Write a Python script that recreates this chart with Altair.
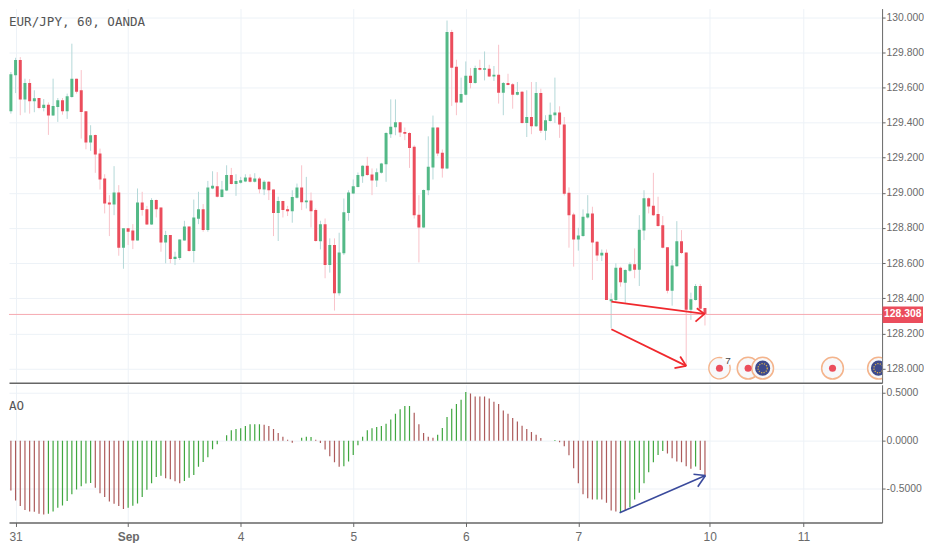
import altair as alt
import pandas as pd

opens = [129.843,129.817,129.464,129.669,129.756,129.532,129.625,129.521,129.540,129.483,129.502,129.440,129.489,129.527,129.464,129.546,129.650,129.584,129.464,129.286,129.330,129.224,129.082,128.945,128.934,129.002,128.688,128.798,128.786,128.729,128.945,128.907,128.820,128.959,128.917,128.718,128.760,128.623,128.629,128.729,128.809,128.669,128.853,128.907,128.788,129.025,129.038,128.976,129.014,129.101,129.051,129.057,129.065,129.087,129.063,129.082,129.019,129.063,129.019,128.885,128.953,128.907,128.896,128.972,
129.031,128.947,128.957,128.902,128.724,128.822,128.589,128.703,128.428,128.656,128.885,128.997,129.034,129.095,129.154,129.104,129.070,129.114,129.163,129.334,129.373,129.402,129.347,129.341,129.262,128.875,128.803,129.015,129.144,129.372,129.229,129.139,129.915,129.718,129.515,129.559,129.667,129.625,129.711,129.701,129.707,129.663,129.673,129.570,129.625,129.618,129.559,129.576,129.398,129.432,129.379,129.568,129.354,129.409,129.442,129.457,129.389,129.000,128.877,128.735,128.754,128.860,128.883,128.722,
128.644,128.659,128.383,128.390,128.574,128.489,128.557,128.593,128.563,128.786,128.970,128.926,128.879,128.815,128.690,128.443,128.582,128.724,128.661,128.334,128.390,128.470,128.345]
highs = [129.928,129.843,129.688,129.769,129.773,129.650,129.648,129.584,129.540,129.534,129.515,129.650,129.540,129.540,129.565,129.849,129.650,129.699,129.464,129.385,129.332,129.252,129.106,128.987,129.152,129.044,128.798,128.798,128.822,129.025,129.006,128.926,128.970,128.962,128.917,128.784,128.760,128.665,128.735,128.841,128.809,128.962,129.006,128.936,129.068,129.123,129.118,129.068,129.157,129.142,129.106,129.091,129.106,129.106,129.112,129.091,129.072,129.067,129.019,128.978,128.955,128.926,129.015,129.053,
129.157,129.091,129.002,128.911,128.841,128.854,128.741,128.741,128.773,128.968,129.015,129.076,129.116,129.157,129.205,129.139,129.139,129.171,129.345,129.532,129.532,129.404,129.372,129.345,129.271,128.987,129.019,129.322,129.440,129.373,129.247,129.981,129.928,129.758,129.656,129.748,129.711,129.724,129.758,129.805,129.729,129.722,129.843,129.631,129.678,129.625,129.631,129.580,129.584,129.631,129.631,129.593,129.442,129.514,129.656,129.493,129.432,129.031,128.887,128.801,128.906,128.987,128.921,128.726,
128.678,128.678,128.428,128.599,128.580,128.565,128.604,128.684,128.873,129.015,128.974,129.114,128.978,128.868,128.690,128.618,128.839,128.788,128.661,128.432,128.481,128.481,128.345]
lows = [129.750,129.428,129.451,129.568,129.442,129.457,129.451,129.459,129.476,129.464,129.330,129.438,129.404,129.445,129.421,129.542,129.565,129.309,129.248,129.239,129.114,129.019,128.883,128.754,128.873,128.642,128.568,128.703,128.680,128.728,128.870,128.817,128.817,128.860,128.665,128.599,128.599,128.589,128.618,128.728,128.665,128.604,128.822,128.779,128.779,129.021,128.974,128.974,129.010,129.048,128.983,129.053,129.061,129.059,129.059,128.997,128.987,128.959,128.754,128.726,128.860,128.868,128.830,128.968,
128.902,128.911,128.803,128.722,128.678,128.514,128.546,128.330,128.415,128.646,128.841,128.993,129.031,129.057,129.097,128.987,129.034,129.110,129.063,129.313,129.328,129.318,129.300,129.142,128.854,128.604,128.801,128.987,129.076,129.209,129.087,129.135,129.495,129.442,129.512,129.555,129.595,129.622,129.697,129.640,129.659,129.637,129.508,129.442,129.612,129.479,129.555,129.394,129.318,129.334,129.375,129.341,129.300,129.406,129.398,129.313,128.985,128.688,128.580,128.671,128.750,128.854,128.504,128.612,
128.612,128.390,128.229,128.381,128.466,128.372,128.551,128.514,128.470,128.731,128.883,128.868,128.807,128.684,128.428,128.358,128.580,128.652,128.012,128.277,128.387,128.337,128.245]
closes = [129.811,129.464,129.675,129.756,129.532,129.625,129.521,129.538,129.483,129.502,129.440,129.495,129.527,129.464,129.550,129.650,129.576,129.461,129.286,129.328,129.218,129.076,128.940,128.934,129.002,128.688,128.798,128.779,128.729,128.945,128.902,128.820,128.959,128.907,128.718,128.760,128.623,128.637,128.735,128.809,128.669,128.860,128.907,128.788,129.031,129.040,128.978,129.019,129.101,129.051,129.068,129.072,129.087,129.063,129.082,129.021,129.063,129.015,128.885,128.953,128.902,128.896,128.976,129.031,
128.947,128.957,128.896,128.726,128.822,128.589,128.703,128.428,128.661,128.889,129.002,129.038,129.101,129.154,129.101,129.070,129.118,129.167,129.341,129.377,129.402,129.343,129.336,129.256,128.872,128.803,129.017,129.148,129.372,129.224,129.139,129.915,129.712,129.515,129.563,129.667,129.625,129.711,129.701,129.709,129.663,129.673,129.570,129.625,129.614,129.559,129.574,129.398,129.432,129.379,129.568,129.354,129.413,129.445,129.457,129.389,128.995,128.873,128.735,128.758,128.864,128.883,128.718,128.644,
128.659,128.390,128.394,128.574,128.491,128.561,128.593,128.563,128.790,128.970,128.923,128.873,128.811,128.688,128.443,128.586,128.724,128.657,128.334,128.394,128.470,128.341,128.308]

ao_values = [-.199,-.366,-.523,-.627,-.686,-.728,-.742,-.746,-.767,-.774,-.767,-.742,-.704,-.679,-.634,-.561,-.512,-.477,-.449,-.443,-.495,-.551,-.592,-.638,-.662,-.686,-.718,-.704,-.683,-.659,-.592,-.516,-.446,-.380,-.369,-.394,-.404,-.425,-.446,-.422,-.390,-.359,-.275,-.223,-.174,-.091,-.038,0,.056,.108,.122,.129,.153,.171,.171,.171,.167,.153,.122,.080,.042,.010,-.021,0,.031,.042,.038,.010,
-.024,-.094,-.164,-.226,-.275,-.268,-.220,-.150,-.049,.042,.108,.129,.143,.153,.178,.223,.282,.328,.362,.362,.293,.171,.080,.042,.031,.063,.132,.247,.334,.383,.429,.509,.495,.463,.463,.463,.443,.408,.383,.317,.282,.237,.202,.157,.122,.091,.063,.028,0,0,.007,-.017,-.059,-.153,-.289,-.446,-.561,-.603,-.617,-.617,-.617,-.652,-.732,-.742,-.760,-.732,-.697,-.617,-.547,-.446,-.331,-.226,-.150,-.108,-.136,-.185,-.220,-.226,-.268,-.296,-.272,-.307,-.362]
ao_rising = ("r"*10 + "g"*10 + "r"*7 + "g"*8 + "r"*4 + "g"*8 + "r" + "g"*8 + "r"*8 + "g"*3 + "r"*6
             + "g"*15 + "r"*5 + "g"*7 + "r"*18 + "g" + "r"*8 + "g" + "r"*4 + "g" + "r" + "g"*8 + "r"*6 + "g" + "r"*2)

day_ticks = [3, 27, 51, 75, 99, 123, 151, 171]
day_names = ["31", "Sep", "4", "5", "6", "7", "10", "11"]
price_ticks = [128.0, 128.2, 128.4, 128.6, 128.8, 129.0, 129.2, 129.4, 129.6, 129.8, 130.0]
ao_ticks = [-0.5, 0.0, 0.5]
last_price = 128.308

red_seg_x1 = [130.04, 149.9, 149.9, 130.04, 146.0, 146.0]
red_seg_x2 = [149.9, 148.26, 147.98, 146.0, 144.72, 143.5]
red_seg_y1 = [128.381, 128.311, 128.311, 128.224, 128.015, 128.015]
red_seg_y2 = [128.311, 128.343, 128.267, 128.015, 128.068, 128.002]
blue_seg_x1 = [131.8, 150.1, 150.1]
blue_seg_x2 = [150.1, 147.55, 148.47]
blue_seg_y1 = [-.756, -.366, -.366]
blue_seg_y2 = [-.366, -.353, -.484]

event_x = [153.1, 159.2, 162.3, 177.2, 187.0]
event_kind = ["dot", "dot", "eu", "dot", "eu"]
event_level = 128.002

GRID = "#edf2f7"
BORDER = "#666666"
LABEL = "#6a6a6a"
UP = "#53b987"
DOWN = "#eb4d5c"
UP_WICK = "#b4d8d8"
DOWN_WICK = "#f9c3ca"
MONO = "DejaVu Sans Mono"
SANS = "Liberation Sans"

xs = alt.Scale(domain=[1.596, 187.77], nice=False, zero=False)
ys = alt.Scale(domain=[127.919, 130.049], nice=False, zero=False)
ya = alt.Scale(domain=[-0.858, 0.586], nice=False, zero=False)

df = pd.DataFrame({"i": range(len(opens)), "o": opens, "h": highs, "l": lows, "c": closes})
df["top"] = df[["o", "c"]].max(axis=1)
df["bot"] = df[["o", "c"]].min(axis=1)
df["body_col"] = [UP if c >= o else DOWN for o, c in zip(opens, closes)]
df["wick_col"] = [UP_WICK if c >= o else DOWN_WICK for o, c in zip(opens, closes)]
ao = pd.DataFrame({"i": range(len(ao_values)), "v": ao_values,
                   "col": ["#3fa63f" if d == "g" else "#ac5a5a" for d in list(ao_rising)[:len(ao_values)]]})
ev = pd.DataFrame({"x": event_x, "kind": event_kind, "y": [event_level] * len(event_x)})
reds = pd.DataFrame({"x": red_seg_x1, "x2": red_seg_x2, "y": red_seg_y1, "y2": red_seg_y2})
blues = pd.DataFrame({"x": blue_seg_x1, "x2": blue_seg_x2, "y": blue_seg_y1, "y2": blue_seg_y2})

label_expr = "{" + ",".join(f"'{t}':'{n}'" for t, n in zip(day_ticks, day_names)) + "}[datum.value]"

x_main_axis = alt.Axis(values=day_ticks, grid=True, gridColor=GRID, gridWidth=1, labels=False, ticks=False,
                       domain=True, domainColor=BORDER, domainWidth=1.5, title=None)
x_ao_axis = alt.Axis(values=day_ticks, grid=True, gridColor=GRID, gridWidth=1, labelExpr=label_expr,
                     labelFont=SANS, labelFontSize=12, labelColor=LABEL, labelPadding=5,
                     labelFontWeight=alt.condition("datum.value == 27", alt.value("bold"), alt.value("normal")),
                     ticks=True, tickSize=4, tickColor=BORDER,
                     domain=True, domainColor=BORDER, domainWidth=1.5, title=None, labelOverlap=False)
y_main_axis = alt.Axis(orient="right", values=price_ticks, format=".3f", grid=True, gridColor=GRID, gridWidth=1,
                       labelFont=SANS, labelFontSize=10.4, labelColor=LABEL, labelPadding=1,
                       ticks=True, tickSize=3, tickColor=BORDER, domain=True, domainColor=BORDER, domainWidth=1,
                       title=None, labelOverlap=False)
y_ao_axis = alt.Axis(orient="right", values=ao_ticks, grid=True, gridColor=GRID, gridWidth=1,
                     labelExpr="replace(format(datum.value, '.4f'), '\u2212', '-')",
                     labelFont=SANS, labelFontSize=10.4, labelColor=LABEL, labelPadding=1,
                     ticks=True, tickSize=3, tickColor=BORDER, domain=True, domainColor=BORDER, domainWidth=1,
                     title=None, labelOverlap=False)


def MX(f):
    return alt.X(f, scale=xs, axis=x_main_axis)


def MY(f):
    return alt.Y(f, scale=ys, axis=y_main_axis)


def AX(f):
    return alt.X(f, scale=xs, axis=x_ao_axis)


def AY(f):
    return alt.Y(f, scale=ya, axis=y_ao_axis)


wicks = alt.Chart(df).mark_rule(strokeWidth=1, clip=True).encode(
    x=MX("i:Q"), y=MY("l:Q"), y2="h:Q", color=alt.Color("wick_col:N", scale=None))
bodies = alt.Chart(df).mark_rule(strokeWidth=3, clip=True).encode(
    x=MX("i:Q"), y=MY("bot:Q"), y2="top:Q", color=alt.Color("body_col:N", scale=None))
price_line = alt.Chart(pd.DataFrame({"p": [last_price]})).mark_rule(color="#f6a9b1", strokeWidth=1).encode(y=MY("p:Q"))
red_arrows = alt.Chart(reds).mark_rule(color="#f0282d", strokeWidth=1.8).encode(
    x=MX("x:Q"), x2="x2:Q", y=MY("y:Q"), y2="y2:Q")

dots = ev[ev.kind == "dot"]
flags = ev[ev.kind == "eu"]
closed = ev.iloc[1:]
EX = MX("x:Q")
EY = MY("y:Q")
ring_fill = alt.Chart(ev.iloc[:1]).mark_point(shape="circle", size=400, fill="#f7f8fa", stroke=None, opacity=1, clip=True).encode(x=EX, y=EY)
ring_open = alt.Chart(ev.iloc[:1]).mark_arc(radius=11.4, radius2=10, theta=1.25, theta2=6.55, color="#f4b48c").encode(x=EX, y=EY)
rings = alt.Chart(closed).mark_point(shape="circle", size=475, fill="#f7f8fa", stroke="#f4b48c", strokeWidth=1.5, opacity=1, clip=True).encode(x=EX, y=EY)
red_dots = alt.Chart(dots).mark_point(shape="circle", size=50, filled=True, color=DOWN, opacity=1).encode(x=EX, y=EY)
flag_disc = alt.Chart(flags).mark_point(shape="circle", size=230, filled=True, color="#3e4a8c", opacity=1, clip=True).encode(x=EX, y=EY)
flag_stars = alt.Chart(flags).mark_point(shape="circle", size=85, fill=None, stroke="#d9b04a", strokeWidth=1.3,
                                         strokeDash=[1.2, 1.3], opacity=1, clip=True).encode(x=EX, y=EY)
seven = alt.Chart(ev.iloc[:1]).mark_text(text="7", font=SANS, fontSize=10, color="#444444", dx=8.5, dy=-7).encode(x=EX, y=EY)

tag_rect = alt.Chart(pd.DataFrame({"p": [last_price]})).mark_rect(color=DOWN).encode(
    x=alt.value(875.5), x2=alt.value(916), y=alt.value(298.5), y2=alt.value(315))
tag_text = alt.Chart(pd.DataFrame({"p": [last_price], "t": ["128.308"]})).mark_text(
    font=SANS, fontSize=10.4, fontWeight="bold", color="white").encode(
    x=alt.value(895.7), y=MY("p:Q"), text="t:N")
title = alt.Chart(pd.DataFrame({"t": ["EUR/JPY, 60, OANDA"]})).mark_text(
    font=MONO, fontSize=12.6, align="left", color="#555555").encode(
    x=alt.value(0), y=alt.value(13), text="t:N")

main = alt.layer(wicks, bodies, price_line, red_arrows, ring_fill, ring_open, rings, red_dots, flag_disc, flag_stars,
                 seven, tag_rect, tag_text, title).properties(width=875, height=375)

ao_bars = alt.Chart(ao).mark_rule(strokeWidth=1.2, clip=True).encode(
    x=AX("i:Q"), y=AY("v:Q"), y2=alt.Y2(datum=0), color=alt.Color("col:N", scale=None))
blue_arrow = alt.Chart(blues).mark_rule(color="#3a4a9c", strokeWidth=1.6).encode(
    x=AX("x:Q"), x2="x2:Q", y=AY("y:Q"), y2="y2:Q")
ao_title = alt.Chart(pd.DataFrame({"t": ["AO"]})).mark_text(
    font=MONO, fontSize=12.6, align="left", color="#555555").encode(
    x=alt.value(0), y=alt.value(21), text="t:N")
panel = alt.layer(ao_bars, blue_arrow, ao_title).properties(width=875, height=138)

chart = alt.vconcat(main, panel, spacing=2, padding=0).configure_view(strokeWidth=0)
chart.save("out.html", embed_options={"renderer": "svg", "actions": False})
